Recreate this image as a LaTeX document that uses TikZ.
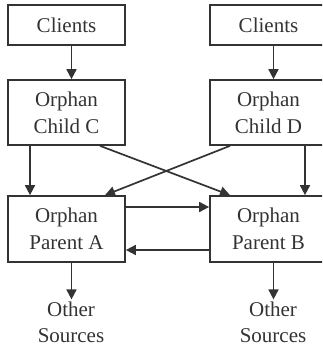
\documentclass[tikz,border=0pt]{standalone}
\usepackage{fontspec}
\setmainfont{Liberation Serif}
\usetikzlibrary{arrows.meta}
\begin{document}
\begin{tikzpicture}[x=1pt, y=-1pt, every node/.style={text=black!80},
  box/.style={draw=black!80, line width=1.7pt, minimum width=117pt, inner sep=0pt, align=center, font=\fontsize{21}{27}\selectfont},
  src/.style={align=center, inner sep=2pt, font=\fontsize{21}{26}\selectfont},
  link/.style={draw=black!80, line width=1.7pt, -{Triangle[length=10pt,width=10pt]}}]
\clip (0,0) rectangle (322,346);
\node[box, minimum height=40pt] (CL1) at (66.5,25) {Clients};
\node[box, minimum height=40pt] (CL2) at (268.5,25) {Clients};
\node[box, minimum height=65pt] (OC) at (66.5,112.5) {Orphan\\Child C};
\node[box, minimum height=65pt] (OD) at (268.5,112.5) {Orphan\\Child D};
\node[box, minimum height=66pt] (PA) at (66.5,229) {Orphan\\Parent A};
\node[box, minimum height=66pt] (PB) at (268.5,229) {Orphan\\Parent B};
\node[src] (SA) at (71,322) {Other\\Sources};
\node[src] (SB) at (273,322) {Other\\Sources};
\draw[link] ([xshift=5pt]CL1.south) -- ([xshift=5pt]OC.north);
\draw[link] ([xshift=5pt]CL2.south) -- ([xshift=5pt]OD.north);
\draw[link] ([xshift=-36.5pt]OC.south) -- ([xshift=-36.5pt]PA.north);
\draw[link] ([xshift=36.5pt]OD.south) -- ([xshift=36.5pt]PB.north);
\draw[link] ([xshift=33.5pt]OC.south) -- ([xshift=-38.5pt]PB.north);
\draw[link] ([xshift=-38.5pt]OD.south) -- ([xshift=38.5pt]PA.north);
\draw[link] ([yshift=22pt]PA.east) -- ([yshift=22pt]PB.west);
\draw[link] ([yshift=-21pt]PB.west) -- ([yshift=-21pt]PA.east);
\draw[link] ([xshift=5pt]PA.south) -- ([xshift=5pt]PA.south |- SA.north);
\draw[link] ([xshift=5pt]PB.south) -- ([xshift=5pt]PB.south |- SB.north);
\end{tikzpicture}
\end{document}
